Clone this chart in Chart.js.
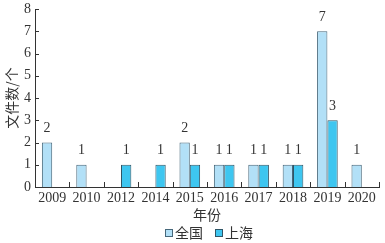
<!DOCTYPE html>
<html>
<head>
<meta charset="utf-8">
<script src="https://cdn.jsdelivr.net/npm/chart.js@4"></script>
<style>
  html, body { margin: 0; padding: 0; background: #ffffff; }
  #wrap { position: relative; width: 385px; height: 243px; }
</style>
</head>
<body>
<div id="wrap"><canvas id="chart"></canvas></div>
<script>
// data
const years = ['2009', '2010', '2012', '2014', '2015', '2016', '2017', '2018', '2019', '2020'];
const national = [2, 1, null, null, 2, 1, 1, 1, 7, 1];
const shanghai = [null, null, 1, 1, 1, 1, 1, 1, 3, null];
const yTicks = [0, 1, 2, 3, 4, 5, 6, 7, 8];

const serif = '"Liberation Serif", "DejaVu Serif", serif';
const cjk = '"Noto Sans CJK SC", sans-serif';
const ink = '#333333';

// numbers above bars
const valueLabels = {
    id: 'valueLabels',
    afterDatasetsDraw(chart) {
        const ctx = chart.ctx;
        ctx.save();
        ctx.fillStyle = ink;
        ctx.font = '14px ' + serif;
        ctx.textAlign = 'center';
        ctx.textBaseline = 'middle';
        chart.data.datasets.forEach((ds, i) => {
            chart.getDatasetMeta(i).data.forEach((bar, j) => {
                if (ds.data[j] == null) return;
                ctx.fillText(ds.data[j], bar.x, bar.y - 14);
            });
        });
        ctx.restore();
    }
};

// inner tick marks like the original
const innerTicks = {
    id: 'innerTicks',
    afterDraw(chart) {
        const ctx = chart.ctx;
        const y = chart.scales.y;
        const area = chart.chartArea;
        ctx.save();
        ctx.strokeStyle = ink;
        ctx.lineWidth = 1;
        ctx.beginPath();
        yTicks.forEach(v => {
            const py = Math.round(y.getPixelForValue(v)) + 0.5;
            ctx.moveTo(area.left, py);
            ctx.lineTo(area.left + 4, py);
        });
        const step = (area.right - area.left) / years.length;
        for (let i = 1; i <= years.length; i++) {
            const px = Math.round(area.left + step * i) + 0.5;
            ctx.moveTo(px, area.bottom);
            ctx.lineTo(px, area.bottom - 5);
        }
        ctx.stroke();
        ctx.restore();
    }
};

// legend drawn by hand so it can sit low and spaced out
const bottomLegend = {
    id: 'bottomLegend',
    afterDraw(chart) {
        const ctx = chart.ctx;
        const startX = [165, 215];
        const cy = 233;
        ctx.save();
        ctx.font = '14px ' + cjk;
        ctx.textBaseline = 'middle';
        ctx.textAlign = 'left';
        chart.data.datasets.forEach((ds, i) => {
            const x = startX[i];
            ctx.fillStyle = ds.backgroundColor;
            ctx.fillRect(x, cy - 4, 8, 8);
            ctx.strokeStyle = ds.borderColor;
            ctx.lineWidth = 1;
            ctx.strokeRect(x + 0.5, cy - 3.5, 7, 7);
            ctx.fillStyle = ink;
            ctx.fillText(ds.label, x + 10, cy);
        });
        ctx.restore();
    }
};

new Chart(document.getElementById('chart'), {
    type: 'bar',
    data: {
        labels: years,
        datasets: [
            {
                label: '全国',
                data: national,
                backgroundColor: '#b2e0f7',
                borderColor: '#46677a',
                borderWidth: 1
            },
            {
                label: '上海',
                data: shanghai,
                backgroundColor: '#3ec6f0',
                borderColor: '#2f5566',
                borderWidth: 1
            }
        ]
    },
    options: {
        responsive: true,
        maintainAspectRatio: false,
        animation: false,
        layout: { padding: { top: 0, right: 6, left: 0, bottom: 20 } },
        datasets: {
            bar: { categoryPercentage: 0.6, barPercentage: 1.0, skipNull: false }
        },
        plugins: {
            tooltip: { enabled: false },
            legend: { display: false }
        },
        scales: {
            x: {
                afterFit: (scale) => { scale.height = 36; },
                grid: { display: false, drawTicks: false },
                border: { color: ink, width: 1 },
                ticks: { color: ink, font: { family: serif, size: 14 }, padding: 3, maxRotation: 0, autoSkip: false },
                title: { display: true, text: '年份', color: ink, font: { family: cjk, size: 14 }, padding: { top: 0, bottom: 0 } }
            },
            y: {
                min: 0,
                max: 8,
                afterFit: (scale) => { scale.width = 35; scale.paddingTop = 9; },
                grid: { display: false, drawTicks: false },
                border: { color: ink, width: 1 },
                afterBuildTicks: (scale) => { scale.ticks = yTicks.map(v => ({ value: v })); },
                ticks: { color: ink, font: { family: serif, size: 14 }, padding: 4 },
                title: { display: true, text: '文件数/个', color: ink, font: { family: cjk, size: 14 }, padding: { top: 3, bottom: 0 } }
            }
        }
    },
    plugins: [valueLabels, innerTicks, bottomLegend]
});
</script>
</body>
</html>
